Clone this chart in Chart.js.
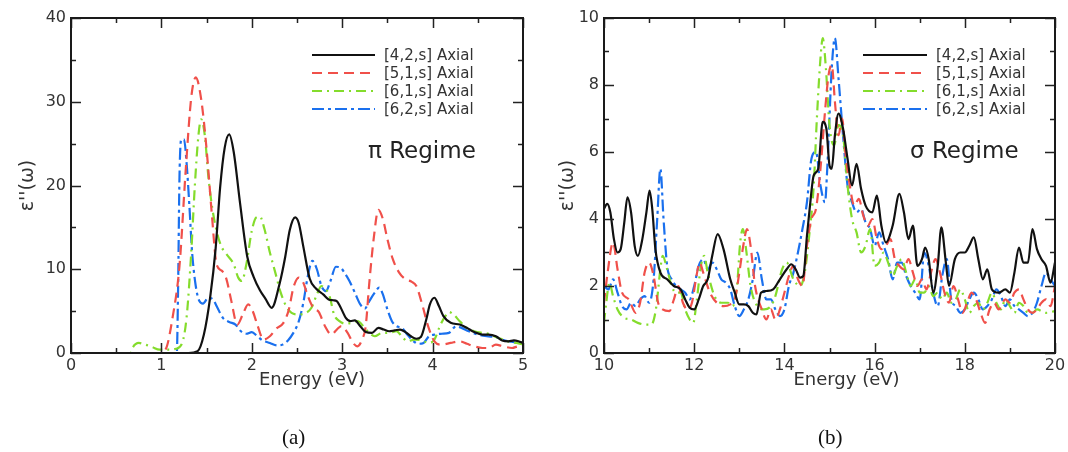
<!DOCTYPE html>
<html><head><meta charset="utf-8">
<script src="https://cdn.jsdelivr.net/npm/chart.js@4/dist/chart.umd.min.js"></script>
<style>
html,body{margin:0;padding:0;background:#fff;width:1068px;height:452px;overflow:hidden;position:relative}
canvas{position:absolute;top:0}
#ca{left:0}
#cb{left:534px}
.lab{position:absolute;font-family:"Liberation Serif","DejaVu Serif",serif;font-size:21px;color:#111;top:424px;line-height:26px}
</style></head><body>
<canvas id="ca" width="534" height="452" style="width:534px;height:452px"></canvas>
<canvas id="cb" width="534" height="452" style="width:534px;height:452px"></canvas>
<div class="lab" style="left:282px">(a)</div>
<div class="lab" style="left:818px">(b)</div>
<script>
// ---------- DATA ----------
const seriesNames = ["[4,2,s] Axial", "[5,1,s] Axial", "[6,1,s] Axial", "[6,2,s] Axial"];
const regimeA = "\u03c0 Regime";
const regimeB = "\u03c3 Regime";
const xTitle = "Energy (eV)";
const yTitle = "\u03b5''(\u03c9)";

// Panel (a): pi regime, [energy, eps2]
const a42 = [[0,0],[1.3,0],[1.4,0.2],[1.47,2.2],[1.54,6.7],[1.6,12.5],[1.65,19.8],[1.7,24.5],[1.75,26.1],[1.8,24],[1.87,17.9],[1.95,11.5],[2.02,9.1],[2.09,7.5],[2.15,6.5],[2.22,5.4],[2.31,8.4],[2.37,11.5],[2.42,14.7],[2.48,16.2],[2.52,15.5],[2.57,12.7],[2.64,8.9],[2.71,7.7],[2.79,7.0],[2.85,6.4],[2.9,6.3],[2.94,6.2],[2.98,5.5],[3.04,4.2],[3.09,3.8],[3.14,3.9],[3.2,3.2],[3.26,2.5],[3.33,2.4],[3.4,3.0],[3.46,2.8],[3.52,2.6],[3.58,2.7],[3.64,2.8],[3.7,2.5],[3.76,2.0],[3.82,1.7],[3.87,1.9],[3.93,4.0],[3.97,5.8],[4.02,6.6],[4.07,5.6],[4.12,4.4],[4.2,3.6],[4.3,3.4],[4.38,3.0],[4.46,2.5],[4.55,2.2],[4.62,2.2],[4.7,2.0],[4.77,1.5],[4.84,1.4],[4.9,1.5],[4.95,1.4],[5.0,1.2]];
const a51 = [[0,0],[0.98,0],[1.05,0.5],[1.12,4],[1.2,10.4],[1.27,22],[1.33,30.5],[1.38,32.9],[1.44,30.3],[1.5,24.3],[1.56,16.3],[1.61,10.6],[1.67,9.8],[1.72,8.8],[1.77,6.4],[1.84,3.4],[1.9,4.6],[1.96,5.8],[2.01,5.0],[2.06,3.4],[2.13,1.6],[2.2,2.0],[2.27,2.9],[2.35,3.6],[2.41,5.2],[2.46,7.8],[2.52,9.0],[2.57,8.4],[2.62,6.8],[2.68,5.4],[2.74,4.9],[2.81,3.2],[2.88,2.2],[2.94,2.8],[2.99,3.2],[3.06,2.4],[3.12,1.2],[3.17,0.8],[3.22,1.6],[3.26,3.2],[3.3,8.4],[3.35,13.8],[3.4,17.1],[3.45,16.0],[3.5,13.6],[3.56,11.2],[3.63,9.6],[3.7,8.8],[3.77,8.5],[3.82,8.0],[3.89,5.6],[3.95,3.2],[4.02,1.4],[4.1,1.0],[4.2,1.2],[4.3,1.4],[4.38,1.1],[4.46,0.8],[4.55,0.6],[4.62,0.6],[4.7,1.0],[4.78,0.8],[4.88,0.6],[4.95,0.8],[5.0,0.8]];
const a61 = [[0,0],[0.66,0],[0.68,0.6],[0.75,1.2],[0.82,1.0],[0.9,0.7],[0.98,0.4],[1.08,0.4],[1.16,0.5],[1.23,1.2],[1.28,4.4],[1.33,12],[1.37,20],[1.41,26],[1.44,27.9],[1.48,26],[1.52,21],[1.56,17.5],[1.61,14.6],[1.66,12.8],[1.72,11.8],[1.8,10.6],[1.85,9],[1.89,8.6],[1.94,10.6],[2.0,14.6],[2.05,16.2],[2.09,16.3],[2.14,14.8],[2.2,12],[2.26,9.6],[2.32,7.2],[2.38,5.6],[2.44,4.8],[2.52,4.6],[2.6,4.8],[2.66,5.4],[2.72,7.0],[2.77,8.0],[2.82,7.6],[2.86,6.8],[2.91,4.6],[2.97,3.8],[3.04,3.5],[3.1,3.6],[3.17,3.8],[3.24,3.1],[3.3,2.4],[3.36,2.0],[3.44,2.4],[3.52,2.4],[3.6,2.6],[3.66,2.0],[3.72,1.4],[3.8,1.6],[3.88,1.5],[3.96,1.2],[4.02,1.6],[4.08,3.2],[4.14,4.4],[4.18,4.9],[4.23,4.6],[4.3,3.8],[4.38,3.0],[4.46,2.6],[4.55,2.4],[4.62,2.3],[4.7,1.9],[4.78,1.6],[4.86,1.3],[4.93,1.2],[5.0,1.0]];
const a62 = [[0,0],[1.17,0],[1.185,8],[1.2,21],[1.22,25.5],[1.25,25.5],[1.28,22.5],[1.31,17.5],[1.34,12],[1.38,8],[1.42,6.2],[1.46,5.9],[1.52,6.6],[1.57,6.4],[1.62,5.4],[1.68,4.2],[1.75,3.7],[1.82,3.4],[1.88,2.6],[1.94,2.3],[2.0,2.5],[2.06,2.0],[2.12,1.5],[2.2,1.2],[2.28,0.9],[2.34,1.0],[2.4,1.5],[2.46,2.4],[2.52,3.8],[2.57,6.0],[2.62,9.2],[2.67,11.0],[2.72,10.0],[2.77,8.0],[2.82,7.4],[2.87,8.6],[2.93,10.3],[2.98,10.2],[3.03,9.5],[3.08,8.6],[3.14,7.2],[3.2,5.8],[3.25,5.3],[3.3,6.2],[3.36,7.2],[3.41,7.8],[3.45,7.0],[3.5,5.2],[3.55,3.8],[3.6,3.2],[3.66,3.0],[3.72,2.2],[3.78,1.5],[3.84,1.1],[3.9,1.2],[3.96,2.0],[4.02,2.2],[4.1,2.3],[4.18,2.4],[4.26,3.2],[4.32,3.0],[4.4,2.6],[4.5,2.2],[4.6,2.0],[4.7,1.9],[4.8,1.5],[4.9,1.3],[5.0,1.2]];

// Panel (b): sigma regime
const b42 = [[10.0,4.3],[10.07,4.45],[10.14,4.2],[10.22,3.4],[10.3,3.0],[10.37,3.1],[10.45,3.9],[10.52,4.65],[10.6,4.2],[10.68,3.2],[10.75,2.9],[10.85,3.4],[10.94,4.2],[11.01,4.85],[11.07,4.3],[11.14,3.1],[11.25,2.4],[11.4,2.2],[11.55,2.0],[11.7,1.9],[11.8,1.6],[11.9,1.35],[12.0,1.3],[12.1,1.6],[12.2,2.0],[12.3,2.2],[12.4,2.9],[12.52,3.55],[12.65,3.1],[12.8,2.2],[12.9,1.8],[13.0,1.45],[13.1,1.45],[13.2,1.4],[13.3,1.2],[13.38,1.15],[13.48,1.8],[13.6,1.85],[13.75,1.9],[13.9,2.2],[14.05,2.5],[14.15,2.65],[14.25,2.5],[14.35,2.25],[14.42,2.3],[14.5,3.5],[14.56,4.3],[14.65,5.3],[14.75,5.5],[14.85,6.9],[14.93,6.7],[15.0,5.6],[15.05,5.5],[15.12,6.5],[15.2,7.15],[15.3,6.7],[15.4,5.8],[15.5,5.0],[15.6,5.65],[15.7,4.9],[15.8,4.4],[15.95,4.2],[16.05,4.7],[16.15,3.8],[16.25,3.3],[16.4,3.8],[16.55,4.75],[16.65,4.2],[16.75,3.4],[16.85,3.8],[16.95,2.6],[17.05,2.8],[17.12,3.15],[17.2,2.8],[17.3,1.8],[17.4,2.6],[17.48,3.75],[17.58,2.7],[17.65,2.0],[17.78,2.8],[17.9,3.0],[18.0,3.0],[18.1,3.2],[18.2,3.45],[18.3,2.8],[18.4,2.2],[18.5,2.5],[18.6,1.9],[18.75,1.8],[18.9,1.9],[19.0,1.8],[19.1,2.4],[19.2,3.15],[19.3,2.7],[19.4,2.7],[19.5,3.7],[19.6,3.1],[19.7,2.8],[19.8,2.6],[19.9,2.1],[20.0,2.7]];
const b51 = [[10.0,1.5],[10.08,2.4],[10.2,3.3],[10.3,2.5],[10.4,1.8],[10.55,1.6],[10.7,1.2],[10.8,1.5],[10.9,2.4],[11.0,2.7],[11.1,2.3],[11.2,1.5],[11.3,1.3],[11.45,1.25],[11.55,1.6],[11.65,2.0],[11.75,1.5],[11.85,1.3],[11.95,1.5],[12.05,2.3],[12.12,2.7],[12.2,2.4],[12.35,1.8],[12.5,1.5],[12.65,1.4],[12.8,1.45],[12.9,1.6],[13.0,2.4],[13.1,3.3],[13.17,3.7],[13.25,3.2],[13.35,2.0],[13.5,1.3],[13.6,1.0],[13.7,1.3],[13.8,1.0],[13.9,1.3],[14.0,1.8],[14.1,2.3],[14.2,2.6],[14.3,2.2],[14.4,2.0],[14.5,3.2],[14.6,4.0],[14.7,4.3],[14.8,5.5],[14.9,7.2],[14.98,8.3],[15.05,8.6],[15.12,7.5],[15.2,6.5],[15.28,7.0],[15.35,6.0],[15.45,5.0],[15.55,4.4],[15.65,4.6],[15.75,4.1],[15.85,3.8],[15.95,4.0],[16.05,3.4],[16.15,3.1],[16.25,3.2],[16.35,3.4],[16.45,2.8],[16.55,2.6],[16.65,2.5],[16.75,2.8],[16.85,2.4],[16.95,2.0],[17.05,2.2],[17.15,1.9],[17.25,2.4],[17.35,2.8],[17.45,2.4],[17.55,1.8],[17.65,1.5],[17.75,2.0],[17.85,1.6],[17.95,1.2],[18.05,1.5],[18.15,1.8],[18.25,1.6],[18.35,1.2],[18.45,0.9],[18.55,1.3],[18.65,1.5],[18.75,1.3],[18.9,1.6],[19.0,1.5],[19.1,1.8],[19.2,1.9],[19.3,1.6],[19.4,1.3],[19.5,1.2],[19.6,1.3],[19.7,1.5],[19.8,1.6],[19.9,1.4],[20.0,2.0]];
const b61 = [[10.0,0.9],[10.05,1.5],[10.12,2.1],[10.2,1.7],[10.3,1.3],[10.45,1.05],[10.6,1.0],[10.75,0.9],[10.9,0.85],[11.05,0.85],[11.15,1.3],[11.25,2.5],[11.3,2.9],[11.4,2.5],[11.5,2.0],[11.6,1.8],[11.7,1.8],[11.8,1.3],[11.9,1.0],[11.98,0.9],[12.05,1.5],[12.15,2.6],[12.22,2.9],[12.3,2.4],[12.45,1.7],[12.6,1.5],[12.75,1.5],[12.85,1.4],[12.95,2.0],[13.02,3.3],[13.08,3.7],[13.15,3.1],[13.25,2.0],[13.4,1.4],[13.55,1.3],[13.7,1.4],[13.8,1.7],[13.95,2.5],[14.05,2.7],[14.2,2.2],[14.35,2.0],[14.45,2.4],[14.55,3.5],[14.65,5.0],[14.72,7.0],[14.8,8.8],[14.85,9.4],[14.92,8.5],[15.0,6.8],[15.1,6.2],[15.2,6.8],[15.3,6.5],[15.4,5.0],[15.5,4.0],[15.6,3.6],[15.7,3.0],[15.8,3.2],[15.9,3.7],[16.0,2.6],[16.1,2.7],[16.2,3.0],[16.3,2.7],[16.4,2.3],[16.5,2.6],[16.6,2.8],[16.7,2.4],[16.8,2.0],[16.9,2.2],[17.0,1.8],[17.1,1.8],[17.2,2.0],[17.3,1.7],[17.4,1.8],[17.5,1.6],[17.6,1.8],[17.7,1.5],[17.8,1.6],[17.9,1.9],[18.0,1.6],[18.1,1.2],[18.2,1.4],[18.3,1.5],[18.4,1.3],[18.5,1.5],[18.6,1.8],[18.7,1.5],[18.8,1.3],[18.9,1.6],[19.0,1.4],[19.1,1.2],[19.2,1.5],[19.3,1.4],[19.4,1.2],[19.5,1.2],[19.6,1.3],[19.8,1.2],[20.0,1.25]];
const b62 = [[10.0,2.0],[10.1,1.9],[10.2,2.2],[10.3,1.8],[10.4,1.4],[10.5,1.3],[10.6,1.5],[10.7,1.4],[10.8,1.6],[10.9,1.7],[11.0,1.5],[11.1,2.2],[11.18,4.0],[11.25,5.5],[11.32,4.0],[11.4,2.6],[11.5,2.2],[11.6,2.0],[11.7,1.9],[11.8,1.8],[11.9,1.6],[12.0,2.0],[12.1,2.6],[12.2,2.8],[12.3,2.5],[12.4,2.7],[12.5,2.5],[12.6,2.2],[12.7,2.1],[12.8,1.9],[12.9,1.4],[13.0,1.1],[13.1,1.3],[13.2,1.6],[13.3,2.2],[13.4,3.0],[13.5,2.2],[13.6,1.6],[13.7,1.6],[13.8,1.3],[13.9,1.1],[14.0,1.3],[14.1,2.0],[14.2,2.4],[14.3,3.0],[14.4,3.7],[14.5,4.5],[14.6,5.8],[14.7,6.0],[14.8,5.0],[14.9,4.5],[14.95,5.5],[15.05,8.5],[15.12,9.4],[15.2,8.2],[15.3,6.5],[15.4,5.0],[15.5,4.5],[15.6,4.2],[15.7,4.3],[15.8,3.9],[15.9,3.7],[16.0,3.2],[16.1,3.6],[16.2,3.2],[16.3,2.8],[16.4,2.2],[16.5,2.7],[16.6,2.7],[16.7,2.3],[16.8,2.0],[16.9,1.8],[17.0,1.6],[17.1,3.0],[17.2,2.6],[17.3,1.8],[17.4,1.4],[17.5,2.3],[17.6,2.8],[17.7,1.6],[17.8,1.4],[17.9,1.2],[18.0,1.3],[18.1,1.6],[18.2,1.8],[18.3,1.6],[18.4,1.3],[18.5,1.4],[18.6,1.6],[18.7,1.9],[18.8,1.7],[18.9,1.4],[19.0,1.6],[19.1,1.4],[19.2,1.3],[19.3,1.2],[19.4,1.1],[19.5,1.2],[19.6,1.5],[19.7,2.0],[19.8,2.4],[19.9,2.2],[20.0,2.0]];

// ---------- STYLE ----------
const colors = ["#111111", "#f0504a", "#84dc2c", "#1a70ee"];
const dashes = [[], [10,6], [10,5,2,5], [12,4,3,4]];
const FONT = "'DejaVu Sans', Verdana, sans-serif";
const TXT = "#333";

function makeDatasets(list) {
  return list.map((arr, i) => ({
    label: seriesNames[i],
    data: arr.map(p => ({x: p[0], y: p[1]})),
    borderColor: colors[i],
    borderWidth: 2.2,
    borderDash: dashes[i],
    pointRadius: 0,
    fill: false,
    cubicInterpolationMode: 'monotone'
  }));
}

const decor = {
  id: 'decor',
  afterDraw(chart, args, o) {
    const ctx = chart.ctx, ca = chart.chartArea;
    const xs = chart.scales.x, ys = chart.scales.y;
    ctx.save();
    ctx.strokeStyle = '#222';
    ctx.lineWidth = 1.5;
    const eps = 1e-6;
    for (let v = o.xmin; v <= o.xmax + eps; v += o.xminor) {
      const px = Math.round(xs.getPixelForValue(v)) + 0.5;
      const major = Math.abs(v / o.xmajor - Math.round(v / o.xmajor)) < 1e-6;
      const L = major ? 10 : 5;
      ctx.beginPath();
      ctx.moveTo(px, ca.bottom); ctx.lineTo(px, ca.bottom - L);
      ctx.moveTo(px, ca.top); ctx.lineTo(px, ca.top + L);
      ctx.stroke();
    }
    for (let v = o.ymin; v <= o.ymax + eps; v += o.yminor) {
      const py = Math.round(ys.getPixelForValue(v)) + 0.5;
      const major = Math.abs(v / o.ymajor - Math.round(v / o.ymajor)) < 1e-6;
      const L = major ? 10 : 5;
      ctx.beginPath();
      ctx.moveTo(ca.left, py); ctx.lineTo(ca.left + L, py);
      ctx.moveTo(ca.right, py); ctx.lineTo(ca.right - L, py);
      ctx.stroke();
    }
    ctx.lineWidth = 2;
    ctx.strokeStyle = '#1a1a1a';
    ctx.strokeRect(ca.left, ca.top, ca.right - ca.left, ca.bottom - ca.top);
    ctx.fillStyle = TXT;
    ctx.font = "18px " + FONT;
    ctx.textAlign = 'center';
    ctx.textBaseline = 'middle';
    ctx.fillText(xTitle, (ca.left + ca.right) / 2 + o.xTitleShift, o.xTitleY);
    ctx.save();
    ctx.translate(o.yTitleX, (ca.top + ca.bottom) / 2);
    ctx.rotate(-Math.PI / 2);
    ctx.font = "19px " + FONT;
    ctx.fillText(yTitle, 0, 0);
    ctx.restore();
    ctx.font = "23px " + FONT;
    ctx.textAlign = 'left';
    ctx.fillStyle = '#222';
    ctx.fillText(o.regime, o.regX, o.regY);
    ctx.font = "15px " + FONT;
    chart.data.datasets.forEach((ds, i) => {
      const y = o.legY + i * o.legStep;
      ctx.save();
      ctx.strokeStyle = ds.borderColor;
      ctx.lineWidth = 2.2;
      ctx.setLineDash(ds.borderDash);
      ctx.beginPath();
      ctx.moveTo(o.legX0, y); ctx.lineTo(o.legX1, y);
      ctx.stroke();
      ctx.restore();
      ctx.fillStyle = TXT;
      ctx.fillText(ds.label, o.legTx, y + 1);
    });
    ctx.restore();
  }
};

function makeChart(id, list, cfg) {
  return new Chart(document.getElementById(id), {
    type: 'line',
    data: { datasets: makeDatasets(list) },
    plugins: [decor],
    options: {
      responsive: false,
      animation: false,
      devicePixelRatio: 1,
      layout: { padding: { left: 0, top: cfg.top, right: cfg.right, bottom: 0 } },
      plugins: { legend: { display: false }, tooltip: { enabled: false }, decor: cfg.decor },
      scales: {
        x: {
          type: 'linear', min: cfg.decor.xmin, max: cfg.decor.xmax,
          ticks: { stepSize: cfg.decor.xmajor, font: { family: FONT, size: 16 }, color: TXT, padding: 3, maxRotation: 0, autoSkip: false },
          grid: { display: false, drawTicks: false },
          border: { display: false },
          afterFit: s => { s.height = cfg.xH; s.paddingLeft = 0; s.paddingRight = 0; }
        },
        y: {
          type: 'linear', min: cfg.decor.ymin, max: cfg.decor.ymax,
          ticks: { stepSize: cfg.decor.ymajor, font: { family: FONT, size: 16 }, color: TXT, padding: 5 },
          grid: { display: false, drawTicks: false },
          border: { display: false },
          afterFit: s => { s.width = cfg.yW; s.paddingTop = 0; s.paddingBottom = 0; }
        }
      }
    }
  });
}

makeChart('ca', [a42, a51, a61, a62], {
  top: 18, right: 11, xH: 99, yW: 71,
  decor: { xmin: 0, xmax: 5, xmajor: 1, xminor: 0.5, ymin: 0, ymax: 40, ymajor: 10, yminor: 5,
    xTitleShift: 15, xTitleY: 380, yTitleX: 28, regime: regimeA, regX: 368, regY: 152,
    legX0: 312, legX1: 375, legTx: 384, legY: 55, legStep: 18 }
});
makeChart('cb', [b42, b51, b61, b62], {
  top: 18, right: 13, xH: 99, yW: 70,
  decor: { xmin: 10, xmax: 20, xmajor: 2, xminor: 1, ymin: 0, ymax: 10, ymajor: 2, yminor: 1,
    xTitleShift: 17, xTitleY: 380, yTitleX: 34, regime: regimeB, regX: 376, regY: 152,
    legX0: 329, legX1: 393, legTx: 402, legY: 55, legStep: 18 }
});
</script>
</body></html>
